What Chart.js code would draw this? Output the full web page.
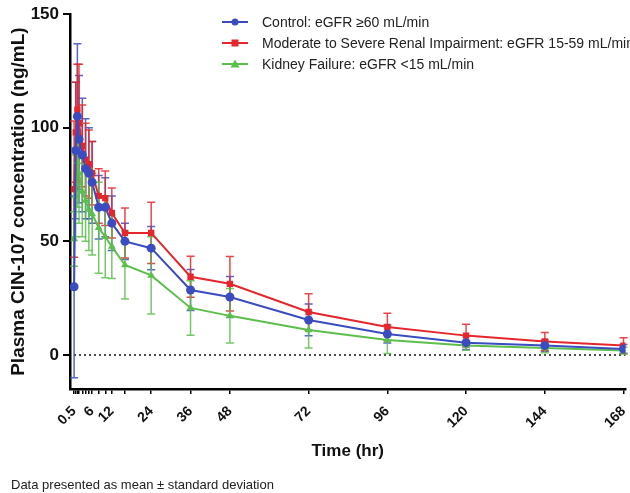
<!DOCTYPE html>
<html>
<head>
<meta charset="utf-8">
<script src="https://cdn.jsdelivr.net/npm/chart.js@4.4.1/dist/chart.umd.min.js"></script>
<style>
body{margin:0;background:#fff;font-family:"Liberation Sans",Arial,sans-serif;}
#wrap{position:relative;width:630px;height:493px;}
#legend{position:absolute;left:220px;top:11px;font-size:14px;color:#222;}
.row{height:21px;display:flex;align-items:center;white-space:nowrap;}
.row canvas{margin-right:12px;}
#note{position:absolute;left:11px;top:477px;font-size:13px;color:#222;}
</style>
</head>
<body>
<div id="wrap">
<canvas id="chart" width="630" height="493"></canvas>
<div id="legend"></div>
<div id="note">Data presented as mean ± standard deviation</div>
</div>
<script>
// sampling times (hr)
const hours = [0.5,1,1.5,2,3,4,5,6,8,10,12,16,24,36,48,72,96,120,144,168];
const tickLabels = ["0.5","6","12","24","36","48","72","96","120","144","168"];
const yTicks = [0,50,100,150];

const seriesNames = [
  "Control: eGFR \u226560 mL/min",
  "Moderate to Severe Renal Impairment: eGFR 15-59 mL/min",
  "Kidney Failure: eGFR <15 mL/min"
];

const controlMean = [30,90,105,95,88,82,80,76,65,65,58,50,47,28.6,25.5,15.4,9.2,5.4,4.1,2.6];
const controlSd   = [40,30,32,28,25,22,20,18,14,13,12,8,9.5,9,9,7,4,3,2.5,2];
const moderateMean = [73,98,108,102,92,86,84,80,70,69,62.5,53.7,53.7,34.4,31.3,18.9,12.3,8.5,5.9,4.1];
const moderateSd   = [30,22,20,26,18,16,15,14,12,12,11,11,13.5,9,12,8,6,5,4,3.5];
const failureMean = [51,70,85,80,72,68,64,62,56,52,47.7,39.6,35,20.7,17.2,11,6.6,4.1,3.0,1.9];
const failureSd   = [12,18,20,22,20,18,18,18,20,18,14,15,17,12,12,8,6,2,2,1.5];

const colors = ["#3a4cc0","#e5262d","#5cbf4c"];
const shapes = ["circle","rect","triangle"];

function pts(mean){ return hours.map((h,i)=>({x:h,y:mean[i]})); }

const means = [controlMean, moderateMean, failureMean];
const sds = [controlSd, moderateSd, failureSd];

const datasets = means.map((m,i)=>({
  label: seriesNames[i],
  data: pts(m),
  sd: sds[i],
  borderColor: colors[i],
  backgroundColor: colors[i],
  borderWidth: 2,
  pointStyle: shapes[i],
  pointRadius: 4.5,
  pointBorderWidth: 0,
  order: i === 0 ? 0 : 3 - i
}));

const errorBars = {
  id: "errorBars",
  beforeDatasetsDraw(chart){
    const ctx = chart.ctx, y = chart.scales.y, area = chart.chartArea;
    // dotted zero line
    ctx.save();
    ctx.strokeStyle = "#111";
    ctx.lineWidth = 1.5;
    ctx.setLineDash([2,3]);
    ctx.beginPath();
    ctx.moveTo(area.left + 4, y.getPixelForValue(0));
    ctx.lineTo(area.right, y.getPixelForValue(0));
    ctx.stroke();
    ctx.restore();

    chart.data.datasets.forEach((ds,i)=>{
      const meta = chart.getDatasetMeta(i);
      ctx.save();
      ctx.strokeStyle = ds.borderColor;
      ctx.globalAlpha = 0.85;
      ctx.lineWidth = 1.5;
      meta.data.forEach((pt,j)=>{
        const m = ds.data[j].y, s = ds.sd[j];
        const top = y.getPixelForValue(m + s), bot = y.getPixelForValue(m - s);
        ctx.beginPath();
        ctx.moveTo(pt.x, top); ctx.lineTo(pt.x, bot);
        ctx.moveTo(pt.x - 4, top); ctx.lineTo(pt.x + 4, top);
        ctx.moveTo(pt.x - 4, bot); ctx.lineTo(pt.x + 4, bot);
        ctx.stroke();
      });
      ctx.restore();
    });
  }
};

new Chart(document.getElementById("chart"),{
  type: "line",
  data: { datasets: datasets },
  plugins: [errorBars],
  options: {
    responsive: false,
    animation: false,
    layout: { padding: { top: 14, right: 3, bottom: 31, left: 0 } },
    plugins: { legend: { display: false }, tooltip: { enabled: false } },
    scales: {
      x: {
        type: "linear",
        min: -0.75,
        max: 168.6,
        afterBuildTicks: axis => { axis.ticks = hours.map(v=>({value:v})); },
        afterFit: axis => { axis.height = 73; axis.paddingLeft = 0; axis.paddingRight = 0; },
        ticks: {
          autoSkip: false,
          maxRotation: 45,
          minRotation: 45,
          padding: 9,
          color: "#111",
          font: { family: "Liberation Sans", size: 14, weight: "bold" },
          callback: v => tickLabels.includes(String(v)) ? String(v) : ""
        },
        grid: { drawOnChartArea: false, drawTicks: true, tickLength: 5, color: "#000", lineWidth: 1.5 },
        border: { color: "#000", width: 2.5 },
        title: {
          display: true, text: "Time (hr)", color: "#111",
          font: { family: "Liberation Sans", size: 17, weight: "bold" },
          padding: { top: 0, bottom: 0 }
        }
      },
      y: {
        min: -15,
        max: 150,
        afterBuildTicks: axis => { axis.ticks = yTicks.map(v=>({value:v})); },
        afterFit: axis => { axis.width = 70; },
        ticks: {
          padding: 4,
          color: "#111",
          font: { family: "Liberation Sans", size: 17, weight: "bold" }
        },
        grid: { drawOnChartArea: false, drawTicks: true, tickLength: 7, color: "#000", lineWidth: 2 },
        border: { color: "#000", width: 2.5 },
        title: {
          display: true, text: "Plasma CIN-107 concentration (ng/mL)", color: "#111",
          font: { family: "Liberation Sans", size: 19, weight: "bold" },
          padding: { top: 7, bottom: 0 }
        }
      }
    }
  }
});

// legend: line with marker, then the label
const legend = document.getElementById("legend");
seriesNames.forEach((name,i)=>{
  const row = document.createElement("div");
  row.className = "row";
  const c = document.createElement("canvas");
  c.width = 30; c.height = 12;
  const g = c.getContext("2d");
  g.strokeStyle = colors[i]; g.fillStyle = colors[i]; g.lineWidth = 2;
  g.beginPath(); g.moveTo(2,6); g.lineTo(28,6); g.stroke();
  g.beginPath();
  if (shapes[i] === "circle") { g.arc(15,6,3.5,0,Math.PI*2); }
  else if (shapes[i] === "rect") { g.rect(11.5,2.5,7,7); }
  else { g.moveTo(15,1.5); g.lineTo(19.5,9.5); g.lineTo(10.5,9.5); g.closePath(); }
  g.fill();
  row.appendChild(c);
  const t = document.createElement("span");
  t.textContent = name;
  row.appendChild(t);
  legend.appendChild(row);
});
</script>
</body>
</html>
